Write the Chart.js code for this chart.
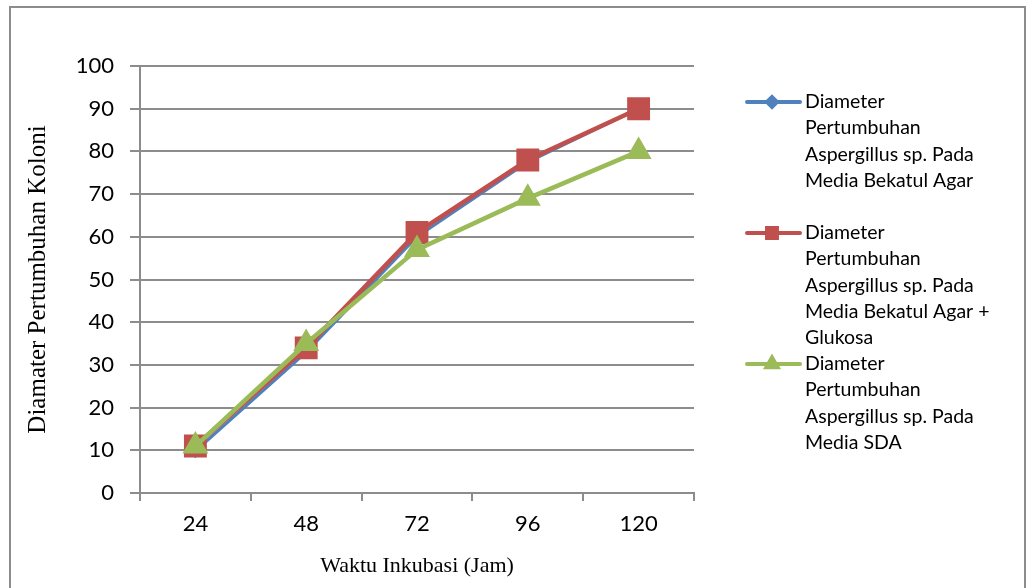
<!DOCTYPE html>
<html>
<head>
<meta charset="utf-8">
<script src="https://cdn.jsdelivr.net/npm/chart.js@4.4.0/dist/chart.umd.min.js"></script>
<style>
  html, body { margin: 0; padding: 0; background: #fff; }
  #wrap { width: 1031px; height: 588px; }
</style>
</head>
<body>
<div id="wrap"><canvas id="growthChart" width="1031" height="588"></canvas></div>
<script>
// Waktu inkubasi (jam)
const hours = ['24', '48', '72', '96', '120'];

// Diameter koloni per media
const bekatulAgar = [9.8, 33, 60, 77.5, 90];
const bekatulGlukosa = [11, 34, 61, 78, 90];
const mediaSDA = [11, 35, 57, 69, 80];

// Legend text, already broken into lines like the original
const seriesLabels = [
    ['Diameter', 'Pertumbuhan', 'Aspergillus sp. Pada', 'Media Bekatul Agar'],
    ['Diameter', 'Pertumbuhan', 'Aspergillus sp. Pada', 'Media Bekatul Agar +', 'Glukosa'],
    ['Diameter', 'Pertumbuhan', 'Aspergillus sp. Pada', 'Media SDA']
];

const gridGrey = '#8c8c8c';
const tickFont = { family: 'Lato', size: 22 };

// White background + outer frame
const framePlugin = {
    id: 'frame',
    beforeDraw(chart) {
        const ctx = chart.ctx;
        ctx.save();
        ctx.fillStyle = '#fff';
        ctx.fillRect(0, 0, chart.width, chart.height);
        ctx.strokeStyle = '#8c8c8c';
        ctx.lineWidth = 2;
        ctx.strokeRect(10, 7, 1015, 600);
        ctx.restore();
    }
};

// Legend on the right, one slot per series
const sideLegend = {
    id: 'sideLegend',
    afterDraw(chart) {
        const ctx = chart.ctx;
        const lineH = 26.2;
        const slotH = 131;
        ctx.save();
        chart.data.datasets.forEach((ds, i) => {
            const y = 102 + i * slotH;
            // sample line
            ctx.strokeStyle = ds.borderColor;
            ctx.lineWidth = 4;
            ctx.lineCap = 'round';
            ctx.beginPath();
            ctx.moveTo(747, y);
            ctx.lineTo(800, y);
            ctx.stroke();
            // sample marker
            ctx.fillStyle = ds.pointBackgroundColor;
            ctx.strokeStyle = ds.pointBorderColor;
            Chart.helpers.drawPoint(ctx, {
                pointStyle: ds.pointStyle,
                radius: ds.legendRadius,
                rotation: 0,
                borderWidth: 1
            }, 772, y);
            // text
            ctx.fillStyle = '#000';
            ctx.font = '19.5px Lato';
            ctx.textAlign = 'left';
            ctx.textBaseline = 'middle';
            seriesLabels[i].forEach((line, k) => {
                ctx.fillText(line, 805, y + k * lineH);
            });
        });
        ctx.restore();
    }
};

function series(data, color, width, style, radius, legendRadius, order) {
    return {
        data: data,
        borderColor: color,
        backgroundColor: color,
        pointBackgroundColor: color,
        pointBorderColor: color,
        borderWidth: width,
        pointStyle: style,
        pointRadius: radius,
        pointHoverRadius: radius,
        legendRadius: legendRadius,
        tension: 0,
        order: order
    };
}

const ctx = document.getElementById('growthChart').getContext('2d');
const growthChart = new Chart(ctx, {
    type: 'line',
    data: {
        labels: hours,
        datasets: [
            series(bekatulAgar, '#4F81BD', 3, 'rectRot', 5, 5, 3),
            series(bekatulGlukosa, '#C0504D', 4.5, 'rect', 13, 7, 2),
            series(mediaSDA, '#9BBB59', 4.5, 'triangle', 10.5, 6.5, 1)
        ]
    },
    options: {
        responsive: false,
        animation: false,
        devicePixelRatio: 1,
        layout: { padding: { left: 0, top: 66, right: 337, bottom: 0 } },
        plugins: {
            legend: { display: false },
            tooltip: { enabled: false }
        },
        scales: {
            x: {
                offset: true,
                afterFit(scale) { scale.height = 95; },
                grid: {
                    offset: true,
                    drawOnChartArea: false,
                    drawTicks: true,
                    tickLength: 8,
                    color: gridGrey,
                    lineWidth: 2
                },
                border: { display: true, color: gridGrey, width: 2 },
                ticks: { color: '#000', font: tickFont, padding: 10, maxRotation: 0 },
                title: {
                    display: true,
                    text: 'Waktu Inkubasi (Jam)',
                    color: '#000',
                    font: { family: 'Liberation Serif', size: 22 },
                    padding: { top: 0, bottom: 9 }
                }
            },
            y: {
                min: 0,
                max: 100,
                afterFit(scale) { scale.width = 140; },
                ticks: { stepSize: 10, color: '#000', font: tickFont, padding: 16 },
                grid: {
                    color: gridGrey,
                    lineWidth: 2,
                    drawTicks: true,
                    tickLength: 10
                },
                border: { display: true, color: gridGrey, width: 2 },
                title: {
                    display: true,
                    text: 'Diamater Pertumbuhan Koloni',
                    color: '#000',
                    font: { family: 'Liberation Serif', size: 25 },
                    padding: { top: 23, bottom: 0 }
                }
            }
        }
    },
    plugins: [framePlugin, sideLegend]
});
</script>
</body>
</html>
